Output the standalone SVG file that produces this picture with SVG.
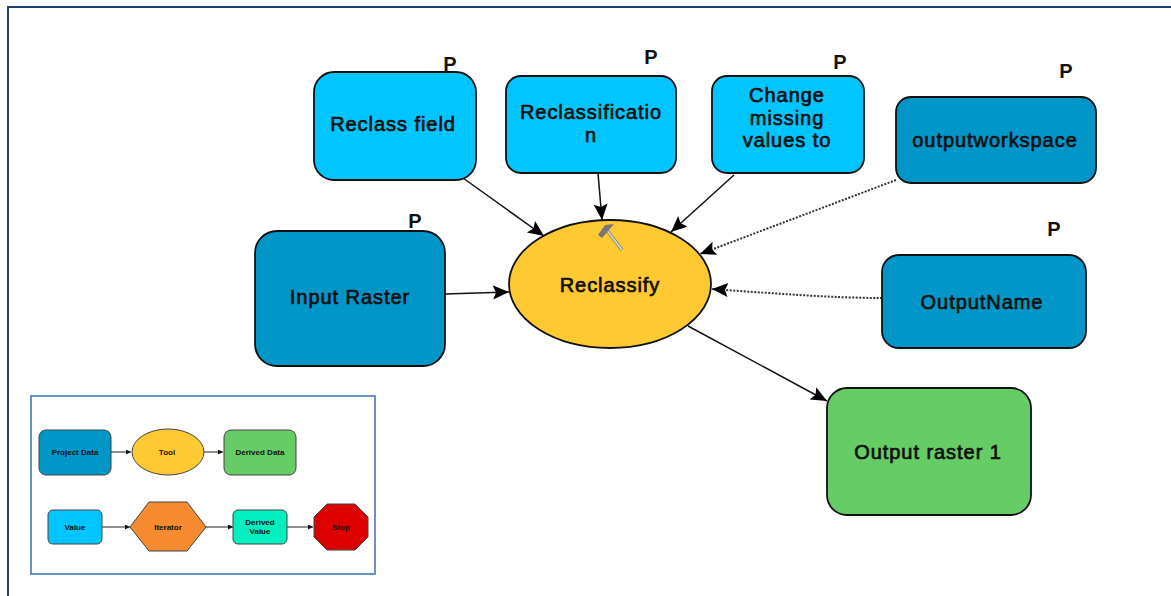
<svg xmlns="http://www.w3.org/2000/svg" width="1171" height="596" viewBox="0 0 1171 596">
<defs>
<marker id="a" markerUnits="userSpaceOnUse" markerWidth="18" markerHeight="16" refX="16" refY="7" orient="auto"><path d="M0,0 L16,7 L0,14 L3,7 Z" fill="#000"/></marker>
<marker id="s" markerUnits="userSpaceOnUse" markerWidth="7" markerHeight="6" refX="5" refY="2.5" orient="auto"><path d="M0,0 L5,2.5 L0,5 Z" fill="#111"/></marker>
</defs>
<style>
text{font-family:"Liberation Sans",Arial,sans-serif;text-anchor:middle;fill:#111}
.n{stroke:#111;stroke-width:1.8}
.m{font-size:20px;letter-spacing:.95px;stroke:#111;stroke-width:.7}
.p{font-size:20px;font-weight:700}
.l{font-size:8px;font-weight:700}
.ls{stroke:#444;stroke-width:1}
.c{fill:none;stroke:#111;stroke-width:1.5;marker-end:url(#a)}
.d{stroke-width:2;stroke-dasharray:2 1.5;stroke:#333}
.t{fill:none;stroke:#222;stroke-width:1;marker-end:url(#s)}
</style>
<rect width="1171" height="596" fill="#fff"/>
<path d="M8,596 V7 H1171" fill="none" stroke="#1f3f6e" stroke-width="2"/>
<g id="connectors">
<path class="c" d="M463,178 L544,236"/>
<path class="c" d="M598,173 L602,220"/>
<path class="c" d="M734,175 L671,232"/>
<path class="c d" d="M896,180 L700,254"/>
<path class="c d" d="M882,298 C830,298 770,293 712,289"/>
<path class="c" d="M445,294 L509,292"/>
<path class="c" d="M688,326 L827,401"/>
</g>
<g id="reclass-field"><rect class="n" x="314" y="72" width="162" height="108" rx="20" fill="#00c5ff"/><text class="m" x="393" y="131">Reclass field</text><text class="p" x="450" y="71">P</text></g>
<g id="reclassification"><rect class="n" x="506" y="76" width="170" height="97" rx="15" fill="#00c5ff"/><text class="m" x="591" y="119">Reclassificatio</text><text class="m" x="591" y="142">n</text><text class="p" x="651" y="64">P</text></g>
<g id="change-missing"><rect class="n" x="712" y="76" width="152" height="97" rx="15" fill="#00c5ff"/><text class="m" x="787" y="102">Change</text><text class="m" x="787" y="125">missing</text><text class="m" x="787" y="147">values to</text><text class="p" x="840" y="69">P</text></g>
<g id="outputworkspace"><rect class="n" x="896" y="97" width="200" height="86" rx="15" fill="#0096c8"/><text class="m" x="995" y="147">outputworkspace</text><text class="p" x="1066" y="78">P</text></g>
<g id="input-raster"><rect class="n" x="255" y="231" width="190" height="135" rx="22" fill="#0096c8"/><text class="m" x="350" y="304">Input Raster</text><text class="p" x="415" y="228">P</text></g>
<g id="output-name"><rect class="n" x="882" y="255" width="204" height="93" rx="17" fill="#0096c8"/><text class="m" x="982" y="309">OutputName</text><text class="p" x="1054" y="236">P</text></g>
<g id="reclassify"><ellipse class="n" cx="610" cy="284" rx="101" ry="64" fill="#ffc931"/><text class="m" x="610" y="292">Reclassify</text>
<path d="M606,229 L622,250" stroke="#8a8a7c" stroke-width="3.5"/><path d="M606,229 L622,250" stroke="#ddd8c4" stroke-width="1.5"/><path d="M598,235 L605,225 L614,224 L608,231 L602,238 Z" fill="#777"/></g>
<g id="output-raster"><rect class="n" x="827" y="388" width="204" height="127" rx="20" fill="#66cc66"/><text class="m" x="928" y="459">Output raster 1</text></g>
<g id="legend">
<rect x="31" y="396" width="344" height="178" fill="#fff" stroke="#5b86c6" stroke-width="1.8"/>
<path class="t" d="M111,452 H131"/><path class="t" d="M204,452 H223"/><path class="t" d="M102,527 H130"/><path class="t" d="M206,527 H233"/><path class="t" d="M287,527 H313"/>
<rect class="ls" x="39" y="430" width="72" height="45" rx="7" fill="#0096c8"/><text class="l" x="75" y="455">Project Data</text>
<ellipse class="ls" cx="168" cy="452" rx="36" ry="23" fill="#ffc931"/><text class="l" x="167" y="455">Tool</text>
<rect class="ls" x="224" y="430" width="72" height="45" rx="7" fill="#66cc66"/><text class="l" x="260" y="455">Derived Data</text>
<rect class="ls" x="48" y="510" width="54" height="34" rx="5" fill="#00c5ff"/><text class="l" x="75" y="530">Value</text>
<path class="ls" d="M130,527 L149,502 H187 L206,527 L187,551 H149 Z" fill="#f58a2e"/><text class="l" x="168" y="530">Iterator</text>
<rect class="ls" x="233" y="510" width="54" height="34" rx="5" fill="#00f0c0"/><text class="l" x="260" y="525">Derived</text><text class="l" x="260" y="534">Value</text>
<path class="ls" d="M327,504 H355 L368,517 V537 L355,550 H327 L314,537 V517 Z" fill="#dd0000"/><text class="l" x="341" y="530">Stop</text>
</g>
</svg>
